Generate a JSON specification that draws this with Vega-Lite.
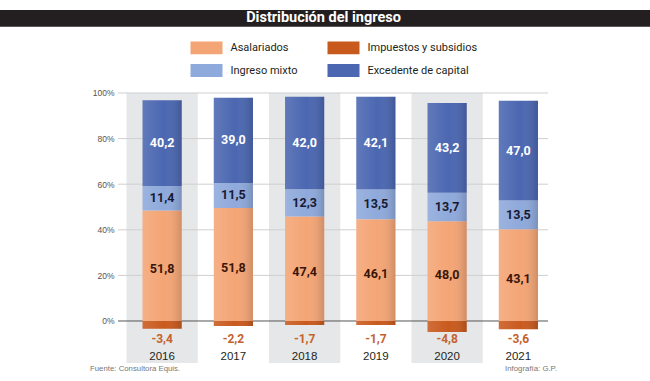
{
  "$schema": "https://vega.github.io/schema/vega-lite/v6.json",
  "width": 650,
  "height": 381,
  "autosize": {"type": "none"},
  "padding": 0,
  "background": "white",
  "datasets": {
    "ingreso": [
      {"anio": "2016", "componente": "Asalariados", "valor": 51.8, "orden": 1},
      {"anio": "2016", "componente": "Ingreso mixto", "valor": 11.4, "orden": 2},
      {"anio": "2016", "componente": "Excedente de capital", "valor": 40.2, "orden": 3},
      {"anio": "2016", "componente": "Impuestos y subsidios", "valor": -3.4, "orden": 4},
      {"anio": "2017", "componente": "Asalariados", "valor": 51.8, "orden": 1},
      {"anio": "2017", "componente": "Ingreso mixto", "valor": 11.5, "orden": 2},
      {"anio": "2017", "componente": "Excedente de capital", "valor": 39.0, "orden": 3},
      {"anio": "2017", "componente": "Impuestos y subsidios", "valor": -2.2, "orden": 4},
      {"anio": "2018", "componente": "Asalariados", "valor": 47.4, "orden": 1},
      {"anio": "2018", "componente": "Ingreso mixto", "valor": 12.3, "orden": 2},
      {"anio": "2018", "componente": "Excedente de capital", "valor": 42.0, "orden": 3},
      {"anio": "2018", "componente": "Impuestos y subsidios", "valor": -1.7, "orden": 4},
      {"anio": "2019", "componente": "Asalariados", "valor": 46.1, "orden": 1},
      {"anio": "2019", "componente": "Ingreso mixto", "valor": 13.5, "orden": 2},
      {"anio": "2019", "componente": "Excedente de capital", "valor": 42.1, "orden": 3},
      {"anio": "2019", "componente": "Impuestos y subsidios", "valor": -1.7, "orden": 4},
      {"anio": "2020", "componente": "Asalariados", "valor": 48.0, "orden": 1},
      {"anio": "2020", "componente": "Ingreso mixto", "valor": 13.7, "orden": 2},
      {"anio": "2020", "componente": "Excedente de capital", "valor": 43.2, "orden": 3},
      {"anio": "2020", "componente": "Impuestos y subsidios", "valor": -4.8, "orden": 4},
      {"anio": "2021", "componente": "Asalariados", "valor": 43.1, "orden": 1},
      {"anio": "2021", "componente": "Ingreso mixto", "valor": 13.5, "orden": 2},
      {"anio": "2021", "componente": "Excedente de capital", "valor": 47.0, "orden": 3},
      {"anio": "2021", "componente": "Impuestos y subsidios", "valor": -3.6, "orden": 4}
    ],
    "fondo": [{"anio": "2016"}, {"anio": "2018"}, {"anio": "2020"}],
    "grilla": [{"v": 20}, {"v": 40}, {"v": 60}, {"v": 80}, {"v": 100}],
    "titulo": [{"texto": "Distribución del ingreso"}],
    "creditos": [{"fuente": "Fuente: Consultora Equis.", "infografia": "Infografía: G.P."}]
  },
  "data": {"name": "ingreso"},
  "layer": [
    {
      "layer": [
        {
          "data": {"name": "titulo"},
          "mark": {"type": "rect", "color": "#231f20"},
          "encoding": {
            "x": {"datum": "2016", "bandPosition": -1.7754},
            "x2": {"datum": "2021", "bandPosition": 2.3474},
            "y": {
              "datum": 136.4,
              "type": "quantitative",
              "scale": {"domain": [-26.316, 140.789], "nice": false, "zero": false},
              "axis": {
                "values": [0, 20, 40, 60, 80, 100],
                "labelExpr": "datum.value + '%'",
                "offset": -118,
                "labelPadding": 4,
                "domain": false,
                "ticks": false,
                "grid": false,
                "title": null,
                "zindex": 1,
                "labelFont": "Liberation Sans",
                "labelFontSize": 8.5,
                "labelColor": "#555555"
              }
            },
            "y2": {"datum": 129.08}
          }
        },
        {
          "data": {"name": "fondo"},
          "mark": {"type": "rect", "color": "#E6E7E9"},
          "encoding": {
            "x": {
              "field": "anio",
              "type": "nominal",
              "title": null,
              "scale": {"paddingInner": 0, "paddingOuter": 0, "range": [126.5, 554]},
              "axis": {
                "orient": "bottom",
                "zindex": 1,
                "domain": false,
                "ticks": false,
                "grid": false,
                "labelOverlap": false,
                "labelPadding": -25,
                "labelBaseline": "middle",
                "labelAlign": "center",
                "labelAngle": 0,
                "labelFont": "Liberation Sans",
                "labelFontSize": 11.5,
                "labelColor": "#231f20"
              }
            },
            "y": {"datum": 100, "type": "quantitative"},
            "y2": {"datum": -18.42}
          }
        },
        {
          "data": {"name": "grilla"},
          "mark": {"type": "rule", "color": "#cfcfcf", "strokeWidth": 1},
          "encoding": {
            "x": {"datum": "2016", "bandPosition": -0.119},
            "x2": {"datum": "2021", "bandPosition": 0.916},
            "y": {"field": "v", "type": "quantitative"}
          }
        },
        {
          "data": {"name": "titulo"},
          "mark": {"type": "rule", "color": "#555555", "strokeWidth": 1},
          "encoding": {
            "x": {"datum": "2016", "bandPosition": -0.119},
            "x2": {"datum": "2021", "bandPosition": 0.916},
            "y": {"datum": 0, "type": "quantitative"}
          }
        },
        {
          "transform": [{"filter": "datum.componente == 'Impuestos y subsidios'"}],
          "mark": {"type": "bar", "width": {"band": 0.55}},
          "encoding": {
            "x": {"field": "anio", "type": "nominal", "title": null},
            "y": {"field": "valor", "type": "quantitative", "stack": null},
            "color": {
              "field": "componente",
              "type": "nominal",
              "scale": {
                "domain": ["Asalariados", "Ingreso mixto", "Impuestos y subsidios", "Excedente de capital"],
                "range": ["#F4A575", "#8EA9DB", "#C95A1E", "#4B67B1"]
              },
              "legend": {
                "orient": "none",
                "legendX": 190.5,
                "legendY": 31.5,
                "columns": 2,
                "title": null,
                "symbolType": "M-1,-0.4H1V0.4H-1Z",
                "symbolSize": 1024,
                "symbolStrokeWidth": 0,
                "symbolOpacity": 1,
                "labelFont": "Roboto",
                "labelFontSize": 11,
                "labelColor": "#231f20",
                "labelOffset": 8,
                "columnPadding": 30,
                "rowPadding": -8.5,
                "padding": 0
              }
            }
          }
        },
        {
          "transform": [{"filter": "datum.componente == 'Impuestos y subsidios'"}],
          "mark": {
            "type": "bar",
            "width": {"band": 0.55},
            "fill": {"gradient": "linear", "x1": 0, "y1": 0, "x2": 1, "y2": 0, "stops": [{"offset": 0, "color": "rgba(255,255,255,0.12)"}, {"offset": 0.55, "color": "rgba(255,255,255,0)"}, {"offset": 1, "color": "rgba(0,0,0,0.15)"}]}
          },
          "encoding": {
            "x": {"field": "anio", "type": "nominal", "title": null},
            "y": {"field": "valor", "type": "quantitative", "stack": null}
          }
        },
        {
          "transform": [{"filter": "datum.componente == 'Impuestos y subsidios'"}],
          "mark": {"type": "text", "font": "Roboto", "fontWeight": "bold", "fontSize": 12, "color": "#C4622C", "baseline": "middle"},
          "encoding": {
            "x": {"field": "anio", "type": "nominal", "title": null},
            "y": {"datum": -7.68, "type": "quantitative"},
            "text": {"field": "valor", "type": "quantitative", "format": ".1f"}
          }
        },
        {
          "data": {"name": "titulo"},
          "mark": {"type": "text", "font": "Roboto", "fontWeight": "bold", "fontSize": 14.5, "color": "white", "baseline": "middle"},
          "encoding": {
            "x": {"datum": "2018", "bandPosition": 0.765},
            "y": {"datum": 132.76, "type": "quantitative"},
            "text": {"field": "texto"}
          }
        },
        {
          "data": {"name": "creditos"},
          "mark": {"type": "text", "font": "Liberation Sans", "fontSize": 7.8, "color": "#777777", "align": "left", "baseline": "middle"},
          "encoding": {
            "x": {"datum": "2016", "bandPosition": -0.512},
            "y": {"datum": -21.05, "type": "quantitative"},
            "text": {"field": "fuente"}
          }
        },
        {
          "data": {"name": "creditos"},
          "mark": {"type": "text", "font": "Liberation Sans", "fontSize": 7.8, "color": "#777777", "align": "right", "baseline": "middle"},
          "encoding": {
            "x": {"datum": "2021", "bandPosition": 1.042},
            "y": {"datum": -21.05, "type": "quantitative"},
            "text": {"field": "infografia"}
          }
        }
      ]
    },
    {
      "transform": [
        {"stack": "valor", "groupby": ["anio"], "sort": [{"field": "orden", "order": "ascending"}], "offset": "normalize", "as": ["v0", "v1"]},
        {"filter": "datum.componente != 'Impuestos y subsidios'"}
      ],
      "layer": [
        {
          "mark": {"type": "bar", "width": {"band": 0.55}},
          "encoding": {
            "x": {"field": "anio", "type": "nominal", "title": null},
            "y": {"field": "v0", "type": "quantitative", "scale": {"domain": [-0.26316, 1.40789], "nice": false, "zero": false}, "axis": null},
            "y2": {"field": "v1"},
            "color": {"field": "componente", "type": "nominal"}
          }
        },
        {
          "mark": {
            "type": "bar",
            "width": {"band": 0.55},
            "fill": {"gradient": "linear", "x1": 0, "y1": 0, "x2": 1, "y2": 0, "stops": [{"offset": 0, "color": "rgba(255,255,255,0.12)"}, {"offset": 0.55, "color": "rgba(255,255,255,0)"}, {"offset": 1, "color": "rgba(0,0,0,0.15)"}]}
          },
          "encoding": {
            "x": {"field": "anio", "type": "nominal", "title": null},
            "y": {"field": "v0", "type": "quantitative"},
            "y2": {"field": "v1"}
          }
        },
        {
          "transform": [
            {"fold": ["v0", "v1"], "as": ["extremo", "pos"]},
            {"aggregate": [{"op": "mean", "field": "pos", "as": "medio"}, {"op": "max", "field": "valor", "as": "valor"}], "groupby": ["anio", "componente"]},
            {"filter": "datum.componente != 'Asalariados'"}
          ],
          "mark": {"type": "text", "font": "Roboto", "fontWeight": "bold", "fontSize": 12.5, "baseline": "middle"},
          "encoding": {
            "x": {"field": "anio", "type": "nominal", "title": null},
            "y": {"field": "medio", "type": "quantitative"},
            "text": {"field": "valor", "type": "quantitative", "format": ".1f"},
            "color": {"condition": {"test": "datum.componente == 'Excedente de capital'", "value": "#ffffff"}, "value": "#171933"}
          }
        },
        {
          "transform": [
            {"fold": ["v0", "v1"], "as": ["extremo", "pos"]},
            {"aggregate": [{"op": "mean", "field": "pos", "as": "medio"}, {"op": "max", "field": "valor", "as": "valor"}], "groupby": ["anio", "componente"]},
            {"filter": "datum.componente == 'Asalariados'"}
          ],
          "mark": {"type": "text", "font": "Roboto", "fontWeight": "bold", "fontSize": 12.5, "baseline": "middle", "dy": 3.5, "color": "#3a1508"},
          "encoding": {
            "x": {"field": "anio", "type": "nominal", "title": null},
            "y": {"field": "medio", "type": "quantitative"},
            "text": {"field": "valor", "type": "quantitative", "format": ".1f"}
          }
        }
      ]
    }
  ],
  "resolve": {"scale": {"y": "independent"}, "axis": {"y": "independent"}},
  "config": {
    "view": {"stroke": null},
    "locale": {"number": {"decimal": ",", "thousands": ".", "grouping": [3], "currency": ["", " €"], "minus": "-"}}
  }
}
